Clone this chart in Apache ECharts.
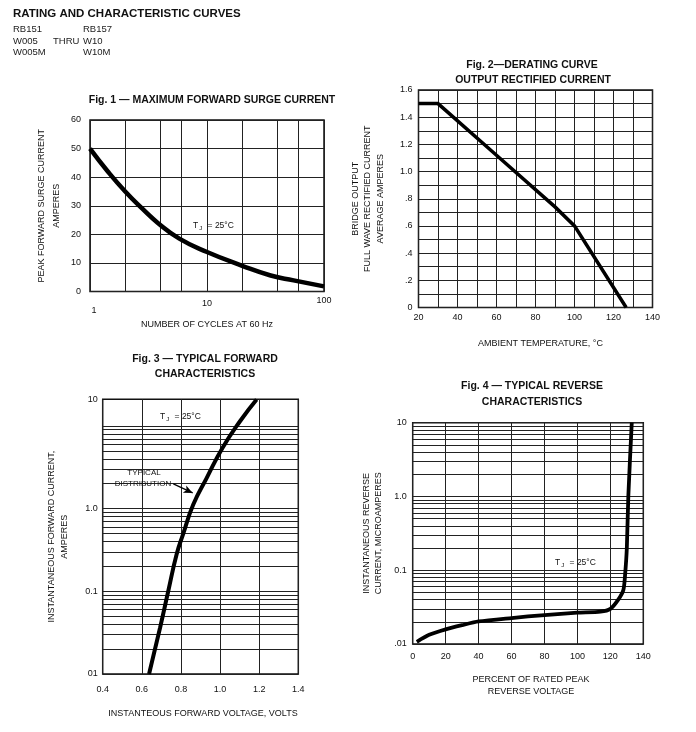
<!DOCTYPE html>
<html><head><meta charset="utf-8">
<script src="https://cdn.jsdelivr.net/npm/echarts@6/dist/echarts.min.js"></script>
<style>html,body{margin:0;padding:0;background:#fff}#c{width:696px;height:732px}</style>
</head><body><div id="c"></div>
<script>
// ---- Fig. 1: maximum forward surge current ----
const fig1Cycles = [1, 1.42, 2, 2.8, 3.8, 5.8, 10, 20, 35, 55, 100];
const fig1Amps   = [50, 42, 35, 29, 24, 18.5, 13.8, 9, 5.6, 3.9, 1.8];
const fig1XGrid  = [2, 4, 6, 20, 40, 60];
// ---- Fig. 2: derating curve ----
const fig2Temp = [20, 30, 60, 90, 100, 126.5];
const fig2Amps = [1.5, 1.5, 1.12, 0.74, 0.6, 0];
// ---- Fig. 3: typical forward characteristics ----
const fig3Volts = [0.637, 0.693, 0.735, 0.778, 0.812, 0.863, 0.932, 1.013, 1.102, 1.187];
const fig3Amps  = [0.01, 0.036, 0.1, 0.28, 0.5, 1.12, 2.36, 5.45, 11.4, 20.9];
const fig3YMax  = 21;
// ---- Fig. 4: typical reverse characteristics ----
const fig4Percent   = [2.5, 10, 20, 30, 40, 60, 80, 100, 114, 120, 124.8, 127.9, 129, 130, 130.9, 133];
const fig4MicroAmps = [0.0107, 0.0133, 0.0158, 0.018, 0.0202, 0.0225, 0.0247, 0.0266, 0.0275, 0.03, 0.04, 0.054, 0.09, 0.2, 1.0, 10];
// log grid lines (per decade)
const logDecades = [0.01, 0.1, 1];
const logMultipliers = [1, 2, 3, 4, 5, 6, 7, 8, 9];
const logGrid = [];
logDecades.forEach(d => logMultipliers.forEach(m => logGrid.push(+(d * m).toPrecision(3))));
logGrid.push(10);

const FONT = '"Liberation Sans", Arial, Helvetica, sans-serif';
const INK = '#111';
const zip = (a, b) => a.map((v, i) => [v, b[i]]);

const gridStyle = {show: true, borderColor: INK, borderWidth: 1.5, backgroundColor: 'transparent'};
const lbl = (extra) => Object.assign({color: INK, fontSize: 9, fontFamily: FONT}, extra || {});
const split = {show: true, lineStyle: {color: '#222', width: 1}};
const nameStyle = (lh) => ({color: INK, fontSize: 9, fontFamily: FONT, lineHeight: lh, align: 'center'});
const gridMarks = (items) => ({
  silent: true, symbol: 'none', z: 1, animation: false,
  label: {show: false}, emphasis: {disabled: true},
  lineStyle: {color: '#222', width: 1, type: 'solid'},
  data: items
});

function fmtSmall(v) {
  if (Math.round(v * 10) % 2 !== 0) return '';
  if (Math.abs(v) < 1e-9) return '0';
  const s = v.toFixed(1);
  return v < 1 ? s.replace(/^0/, '') : s;
}

const chart = echarts.init(document.getElementById('c'), null, {renderer: 'canvas'});
chart.setOption({
  animation: false,
  backgroundColor: '#fff',
  grid: [
    Object.assign({left: 90, top: 120, width: 234, height: 171.5}, gridStyle),
    Object.assign({left: 418.5, top: 90, width: 234, height: 217.5}, gridStyle),
    Object.assign({left: 102.7, top: 399.3, width: 195.6, height: 274.7}, gridStyle),
    Object.assign({left: 412.7, top: 422.7, width: 230.6, height: 221.3}, gridStyle)
  ],
  xAxis: [
    {gridIndex: 0, type: 'log', logBase: 10, min: 1, max: 100,
     axisLine: {show: false}, axisTick: {show: false}, splitLine: split,
     axisLabel: lbl({margin: 4,
       formatter: v => v === 1 ? '{a|1}' : (v === 10 ? '{b|10}' : '{c|100}'),
       rich: {a: {fontSize: 9, fontFamily: FONT, color: INK, padding: [11, 0, 0, 8]},
              b: {fontSize: 9, fontFamily: FONT, color: INK, padding: [4, 0, 0, 0]},
              c: {fontSize: 9, fontFamily: FONT, color: INK, padding: [1, 0, 0, 0]}}}),
     name: 'NUMBER OF CYCLES AT 60 Hz', nameLocation: 'middle', nameGap: 27, nameTextStyle: nameStyle(12)},
    {gridIndex: 1, type: 'value', min: 20, max: 140, interval: 10,
     axisLine: {show: false}, axisTick: {show: false}, splitLine: split,
     axisLabel: lbl({margin: 6, formatter: v => (Math.round(v) % 20 === 0 ? String(Math.round(v)) : '')}),
     name: 'AMBIENT TEMPERATURE, °C', nameLocation: 'middle', nameGap: 30, nameTextStyle: Object.assign(nameStyle(12), {padding: [0, 0, 0, 10]})},
    {gridIndex: 2, type: 'value', min: 0.4, max: 1.4, interval: 0.2,
     axisLine: {show: false}, axisTick: {show: false}, splitLine: split,
     axisLabel: lbl({margin: 11, formatter: v => v.toFixed(1)}),
     name: 'INSTANTEOUS FORWARD VOLTAGE, VOLTS', nameLocation: 'middle', nameGap: 34, nameTextStyle: Object.assign(nameStyle(12), {padding: [0, 0, 0, 5]})},
    {gridIndex: 3, type: 'value', min: 0, max: 140, interval: 20,
     axisLine: {show: false}, axisTick: {show: false}, splitLine: split,
     axisLabel: lbl({margin: 8}),
     name: 'PERCENT OF RATED PEAK\nREVERSE VOLTAGE', nameLocation: 'middle', nameGap: 30, nameTextStyle: Object.assign(nameStyle(12), {padding: [0, 0, 0, 6]})}
  ],
  yAxis: [
    {gridIndex: 0, type: 'value', min: 0, max: 60, interval: 10,
     axisLine: {show: false}, axisTick: {show: false}, splitLine: split,
     axisLabel: lbl({margin: 9}),
     name: 'PEAK FORWARD SURGE CURRENT\nAMPERES', nameLocation: 'middle', nameRotate: 90, nameGap: 26, nameTextStyle: nameStyle(15)},
    {gridIndex: 1, type: 'value', min: 0, max: 1.6, interval: 0.1,
     axisLine: {show: false}, axisTick: {show: false}, splitLine: split,
     axisLabel: lbl({margin: 6, formatter: fmtSmall}),
     name: 'BRIDGE OUTPUT\nFULL WAVE RECTIFIED CURRENT\nAVERAGE AMPERES', nameLocation: 'middle', nameRotate: 90, nameGap: 32, nameTextStyle: nameStyle(12.5)},
    {gridIndex: 2, type: 'log', logBase: 10, min: 0.01, max: fig3YMax,
     axisLine: {show: false}, axisTick: {show: false}, splitLine: {show: false},
     axisLabel: lbl({margin: 5, showMaxLabel: true, showMinLabel: true,
       formatter: v => v < 0.011 ? '01' : (Math.abs(v - 0.1) < 1e-6 ? '0.1' : (Math.abs(v - 1) < 1e-6 ? '1.0' : (v > 15 ? '10' : '')))}),
     name: 'INSTANTANEOUS FORWARD CURRENT,\nAMPERES', nameLocation: 'middle', nameRotate: 90, nameGap: 31, nameTextStyle: nameStyle(13.5)},
    {gridIndex: 3, type: 'log', logBase: 10, min: 0.01, max: 10,
     axisLine: {show: false}, axisTick: {show: false}, splitLine: {show: false},
     axisLabel: lbl({margin: 6,
       formatter: v => v < 0.011 ? '.01' : (Math.abs(v - 0.1) < 1e-6 ? '0.1' : (Math.abs(v - 1) < 1e-6 ? '1.0' : '10'))}),
     name: 'INSTANTANEOUS REVERSE\nCURRENT, MICROAMPERES', nameLocation: 'middle', nameRotate: 90, nameGap: 28, nameTextStyle: nameStyle(12)}
  ],
  series: [
    {type: 'line', xAxisIndex: 0, yAxisIndex: 0, data: zip(fig1Cycles, fig1Amps), smooth: 0.5,
     symbol: 'none', z: 5, lineStyle: {color: '#000', width: 4.5}, silent: true,
     markLine: gridMarks(fig1XGrid.map(v => ({xAxis: v})))},
    {type: 'line', xAxisIndex: 1, yAxisIndex: 1, data: zip(fig2Temp, fig2Amps),
     symbol: 'none', z: 5, lineStyle: {color: '#000', width: 3.5, join: 'miter'}, silent: true},
    {type: 'line', xAxisIndex: 2, yAxisIndex: 2, data: zip(fig3Volts, fig3Amps), smooth: 0.5,
     symbol: 'none', z: 5, lineStyle: {color: '#000', width: 4}, silent: true,
     markLine: gridMarks(logGrid.map(v => ({yAxis: v})).concat([
       [{coord: [0.761, 1.99], symbol: 'none', lineStyle: {color: '#000', width: 1.2}},
        {coord: [0.86, 1.55], symbol: 'arrow', symbolSize: [6, 9]}]
     ]))},
    {type: 'line', xAxisIndex: 3, yAxisIndex: 3, data: zip(fig4Percent, fig4MicroAmps), smooth: 0.25,
     symbol: 'none', z: 5, lineStyle: {color: '#000', width: 3.8}, silent: true,
     markLine: gridMarks(logGrid.map(v => ({yAxis: v})))}
  ],
  graphic: [
    {type: 'text', x: 13, y: 14, style: {text: 'RATING AND CHARACTERISTIC CURVES', font: 'bold 11.5px ' + FONT, fill: INK, verticalAlign: 'middle'}},
    {type: 'text', x: 13, y: 29, style: {text: 'RB151', font: '9.5px ' + FONT, fill: '#222', verticalAlign: 'middle'}},
    {type: 'text', x: 83, y: 29, style: {text: 'RB157', font: '9.5px ' + FONT, fill: '#222', verticalAlign: 'middle'}},
    {type: 'text', x: 13, y: 41, style: {text: 'W005', font: '9.5px ' + FONT, fill: '#222', verticalAlign: 'middle'}},
    {type: 'text', x: 53, y: 41, style: {text: 'THRU', font: '9.5px ' + FONT, fill: '#222', verticalAlign: 'middle'}},
    {type: 'text', x: 83, y: 41, style: {text: 'W10', font: '9.5px ' + FONT, fill: '#222', verticalAlign: 'middle'}},
    {type: 'text', x: 13, y: 52, style: {text: 'W005M', font: '9.5px ' + FONT, fill: '#222', verticalAlign: 'middle'}},
    {type: 'text', x: 83, y: 52, style: {text: 'W10M', font: '9.5px ' + FONT, fill: '#222', verticalAlign: 'middle'}},

    {type: 'text', x: 212, y: 100, style: {text: 'Fig. 1 — MAXIMUM FORWARD SURGE CURRENT', font: 'bold 10.5px ' + FONT, fill: INK, align: 'center', verticalAlign: 'middle'}},
    {type: 'text', x: 532, y: 65, style: {text: 'Fig. 2—DERATING CURVE', font: 'bold 10.5px ' + FONT, fill: INK, align: 'center', verticalAlign: 'middle'}},
    {type: 'text', x: 533, y: 80, style: {text: 'OUTPUT RECTIFIED CURRENT', font: 'bold 10.5px ' + FONT, fill: INK, align: 'center', verticalAlign: 'middle'}},
    {type: 'text', x: 205, y: 359, style: {text: 'Fig. 3 — TYPICAL FORWARD', font: 'bold 10.5px ' + FONT, fill: INK, align: 'center', verticalAlign: 'middle'}},
    {type: 'text', x: 205, y: 374, style: {text: 'CHARACTERISTICS', font: 'bold 10.5px ' + FONT, fill: INK, align: 'center', verticalAlign: 'middle'}},
    {type: 'text', x: 532, y: 386, style: {text: 'Fig. 4 — TYPICAL REVERSE', font: 'bold 10.5px ' + FONT, fill: INK, align: 'center', verticalAlign: 'middle'}},
    {type: 'text', x: 532, y: 402, style: {text: 'CHARACTERISTICS', font: 'bold 10.5px ' + FONT, fill: INK, align: 'center', verticalAlign: 'middle'}},

    {type: 'text', x: 193, y: 226, z: 10, style: {text: '{t|T}{s|J} = 25°C', fill: INK, verticalAlign: 'middle',
      rich: {t: {fontSize: 8.5, fontFamily: FONT, fill: INK}, s: {fontSize: 6, fontFamily: FONT, fill: INK, padding: [5, 3, 0, 1]}}, font: '8.5px ' + FONT}},
    {type: 'text', x: 160, y: 417, z: 10, style: {text: '{t|T}{s|J} = 25°C', fill: INK, verticalAlign: 'middle',
      rich: {t: {fontSize: 8.5, fontFamily: FONT, fill: INK}, s: {fontSize: 6, fontFamily: FONT, fill: INK, padding: [5, 3, 0, 1]}}, font: '8.5px ' + FONT}},
    {type: 'text', x: 555, y: 563, z: 10, style: {text: '{t|T}{s|J} = 25°C', fill: INK, verticalAlign: 'middle',
      rich: {t: {fontSize: 8.5, fontFamily: FONT, fill: INK}, s: {fontSize: 6, fontFamily: FONT, fill: INK, padding: [5, 3, 0, 1]}}, font: '8.5px ' + FONT}},
    {type: 'text', x: 144, y: 473, z: 10, style: {text: 'TYPICAL', font: '8px ' + FONT, fill: INK, align: 'center', verticalAlign: 'middle'}},
    {type: 'text', x: 143, y: 484, z: 10, style: {text: 'DISTRIBUTION', font: '8px ' + FONT, fill: INK, align: 'center', verticalAlign: 'middle'}}
  ]
});
</script></body></html>
